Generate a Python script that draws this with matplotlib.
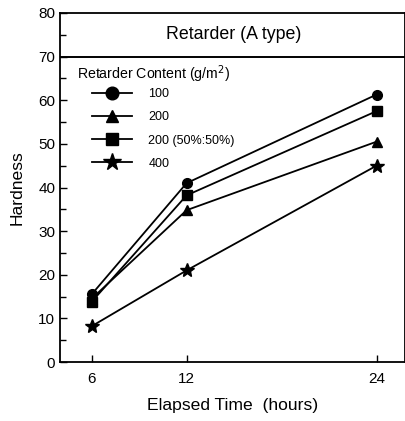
import matplotlib
matplotlib.use("Agg")
import matplotlib.pyplot as plt
from matplotlib.ticker import MultipleLocator

plt.rcParams['font.family'] = ['Liberation Sans', 'DejaVu Sans']

hours = [6, 12, 24]
labels = ['100', '200', '200 (50%:50%)', '400']
markers = ['o', '^', 's', '*']
hard_100 = [15.5, 41.0, 61.3]
hard_200 = [14.5, 34.8, 50.5]
hard_200_mix = [13.8, 38.2, 57.5]
hard_400 = [8.2, 21.0, 45.0]
series = [hard_100, hard_200, hard_200_mix, hard_400]
msizes = [7, 7, 7, 10]

fig = plt.figure(figsize=(4.06, 4.21), dpi=100)
ax = fig.add_axes([60 / 406, 59 / 421, 345 / 406, 349 / 421])

for vals, lab, mk, ms in zip(series, labels, markers, msizes):
    ax.plot(hours, vals, color='black', lw=1.3, marker=mk, ms=ms,
            markerfacecolor='black', markeredgecolor='black', label=lab)

ax.set_xlim(4, 25.8)
ax.set_ylim(0, 80)
ax.set_xticks(hours)
ax.yaxis.set_major_locator(MultipleLocator(10))
ax.yaxis.set_minor_locator(MultipleLocator(5))
ax.tick_params(direction='in', labelsize=11, length=5, width=1)
ax.tick_params(axis='x', pad=7)
ax.tick_params(which='minor', direction='in', length=4, width=1)
for sp in ax.spines.values():
    sp.set_linewidth(1.3)

ax.axhline(70, color='black', lw=1.4)
ax.text(15.0, 75, 'Retarder (A type)', ha='center', va='center', fontsize=12.8)

ax.set_xlabel('Elapsed Time  (hours)', fontsize=12.6, labelpad=9)
ax.set_ylabel('Hardness', fontsize=12.6, labelpad=10)

# legend title drawn as its own text, entries below it
ax.text(17 / 345, (74 - 13) / -349 + 1, 'Retarder Content (g/m$^2$)',
        transform=ax.transAxes, ha='left', va='center', fontsize=10.2)
leg = ax.legend(loc='upper left', bbox_to_anchor=(0.093, 0.785),
                frameon=False, fontsize=9, markerscale=1.3,
                handlelength=3.2, labelspacing=0.9, handletextpad=1.3,
                borderaxespad=0.0, borderpad=0.0)

fig.savefig('out.png', dpi=100)
